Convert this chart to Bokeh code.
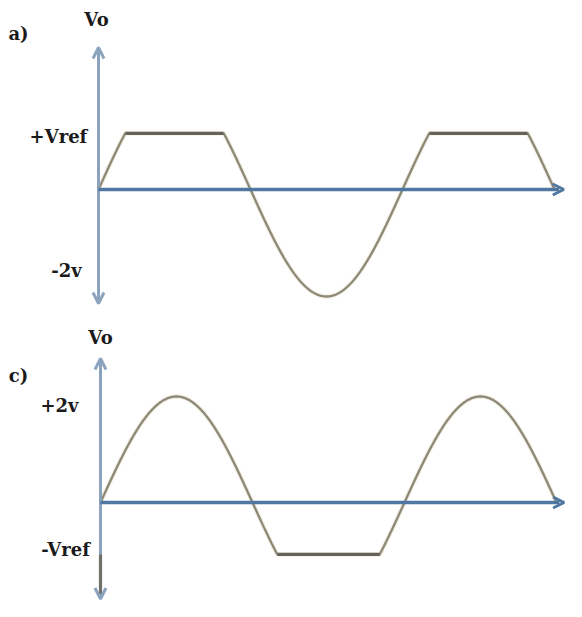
import numpy as np
from bokeh.plotting import figure
from bokeh.layouts import column
from bokeh.models import Range1d, Arrow, OpenHead, ColumnDataSource
from bokeh.core.properties import value
from bokeh.embed import file_html
from bokeh.resources import INLINE

# ---- data ----
amplitude = 2.0          # peak of the sine, volts (labelled 2v)
cycles_deg = 540.0       # 1.5 periods drawn, in degrees
vref_a = 1.05            # clipping level, panel a (positive clipper)
vref_c = 0.98            # clipping level, panel c (negative clipper)
labels_a = ["Vo", "a)", "+Vref", "-2v"]
labels_c = ["Vo", "c)", "+2v", "-Vref"]

AX_V = "#8ba3bc"
AX_H = "#5077a1"
CURVE = "#8d8878"
CLIP = "#65625c"
FONT = value("DejaVu Serif")


def make_panel(height, xr, yr):
    p = figure(width=566, height=height, x_range=Range1d(*xr), y_range=Range1d(*yr),
               x_axis_type=None, y_axis_type=None, toolbar_location=None,
               output_backend="svg", min_border=0)
    p.grid.visible = False
    p.outline_line_color = None
    p.background_fill_color = "white"
    p.border_fill_color = "white"
    return p


def draw_curve(p, vref, positive_clip):
    t = np.linspace(0, cycles_deg, 1081)
    y = amplitude * np.sin(np.radians(t))
    if positive_clip:
        yc = np.minimum(y, vref)
        mask = y >= vref
    else:
        yc = np.maximum(y, -vref)
        mask = y <= -vref
    p.line(t, yc, line_color="#e9e6d2", line_width=4.5, line_alpha=0.6)
    p.line(t, yc, line_color=CURVE, line_width=2.3)
    yflat = np.where(mask, yc, np.nan)
    p.line(t, yflat, line_color=CLIP, line_width=3.2)


def draw_axes(p, vtop, vbot, htip):
    p.segment(x0=[0], y0=[vbot * 0.97], x1=[0], y1=[vtop * 0.98], line_color=AX_V, line_width=3)
    p.add_layout(Arrow(x_start=0, y_start=0, x_end=0, y_end=vtop, line_alpha=0,
                       end=OpenHead(size=11, line_color=AX_V, line_width=3)))
    p.add_layout(Arrow(x_start=0, y_start=0, x_end=0, y_end=vbot, line_alpha=0,
                       end=OpenHead(size=11, line_color=AX_V, line_width=3)))
    p.segment(x0=[0], y0=[0], x1=[htip * 0.99], y1=[0], line_color=AX_H, line_width=3.5)
    p.add_layout(Arrow(x_start=0, y_start=0, x_end=htip, y_end=0, line_alpha=0,
                       end=OpenHead(size=11, line_color=AX_H, line_width=3)))


def draw_labels(p, labels, xs, ys):
    src = ColumnDataSource(dict(x=xs, y=ys, t=labels))
    p.text(x="x", y="y", text="t", source=src, text_font=FONT, text_font_style="bold",
           text_font_size="18px", text_color="#1a1a1a", text_align="center",
           text_baseline="middle")


# ---- panel a ----
pa = make_panel(316, (-116.05, 554.21), (-2.374, 3.533))
draw_curve(pa, vref_a, True)
draw_axes(pa, 2.654, -2.131, 551.0)
draw_labels(pa, labels_a, [-2.4, -94.7, -47.4, -37.9], [3.18, 2.92, 1.0, -1.51])

# ---- panel c ----
pc = make_panel(285, (-118.42, 551.84), (-1.868, 3.509))
draw_curve(pc, vref_c, False)
draw_axes(pc, 2.717, -1.82, 549.0)
pc.segment(x0=[0], y0=[-vref_c], x1=[0], y1=[-1.72], line_color="#737069", line_width=3.2)
draw_labels(pc, labels_c, [0.0, -97.1, -48.6, -41.4], [3.11, 2.40, 1.83, -0.89])

layout = column(pa, pc, spacing=0)
open("out.html", "w").write(file_html(layout, INLINE))
